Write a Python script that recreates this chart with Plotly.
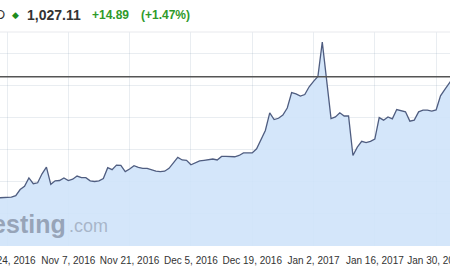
import plotly.graph_objects as go
import pandas as pd

dates = pd.date_range("2016-10-22", "2017-02-03", freq="D").strftime("%Y-%m-%d").tolist()
prices = [
    650, 650, 651, 652, 657, 676, 686, 712, 694, 697,          # Oct 22 - Oct 31
    725, 746, 692, 703, 704, 712, 704, 708, 718, 713,          # Nov 1 - Nov 10
    713, 703, 701, 703, 710, 744, 738, 752, 751, 732,          # Nov 11 - Nov 20
    740, 750, 745, 742, 742, 738, 733, 732, 733, 742,          # Nov 21 - Nov 30
    758, 776, 768, 767, 753, 760, 765, 767, 769, 771,          # Dec 1 - Dec 10
    768, 779, 779, 779, 778, 782, 790, 790, 790, 803,          # Dec 11 - Dec 20
    830, 860, 915, 894, 898, 908, 930, 978, 974, 967,          # Dec 21 - Dec 30
    972, 996, 1013, 1028, 1135, 1015, 897, 902, 915, 905,      # Dec 31 - Jan 9
    905, 782, 808, 826, 822, 826, 833, 900, 892, 902,          # Jan 10 - Jan 19
    896, 925, 922, 918, 889, 892, 918, 923, 923, 920,          # Jan 20 - Jan 29
    924, 968, 988, 1008, 1027.11,                              # Jan 30 - Feb 3
]

tick_dates = ["2016-10-24", "2016-11-07", "2016-11-21", "2016-12-05",
              "2016-12-19", "2017-01-02", "2017-01-16", "2017-01-30"]
tick_labels = ["Oct 24, 2016", "Nov 7, 2016", "Nov 21, 2016", "Dec 5, 2016",
               "Dec 19, 2016", "Jan 2, 2017", "Jan 16, 2017", "Jan 30, 2017"]

symbol = "BTC/USD"
last_price = 1027.11
last_price_text = "1,027.11"
change_text = "+14.89"
change_pct_text = "(+1.47%)"

W, H = 450, 270
TOP, BOT = 32, 246
fig = go.Figure()
fig.add_trace(go.Scatter(
    x=dates, y=prices, mode="lines",
    line=dict(color="#4f5d80", width=1.3),
    fill="tozeroy", fillcolor="rgba(207,227,250,0.9)",
    hoverinfo="skip",
))

fig.add_shape(type="line", xref="paper", x0=0, x1=1, yref="y",
              y0=last_price, y1=last_price,
              line=dict(color="#555555", width=1.5))
fig.add_shape(type="line", xref="paper", x0=0, x1=1, yref="paper",
              y0=1, y1=1, line=dict(color="#e8e9ed", width=1))

def px(xp):
    return xp / W

def py(yp):
    return (BOT - yp) / (BOT - TOP)

green = "#2f9a2a"
base = "Liberation Sans, Arial, sans-serif"
ann = [
    dict(text=symbol, x=px(7), xanchor="right", font=dict(size=13, color="#333")),
    dict(text="◆", x=px(15), xanchor="center", font=dict(size=9, color="#1e8c1e")),
    dict(text="<b>" + last_price_text + "</b>", x=px(25), xanchor="left",
         font=dict(size=14, color="#333")),
    dict(text="<b>" + change_text + "</b>", x=px(90), xanchor="left",
         font=dict(size=12, color=green)),
    dict(text="<b>" + change_pct_text + "</b>", x=px(139), xanchor="left",
         font=dict(size=12, color=green)),
]
for a in ann:
    fig.add_annotation(xref="paper", yref="paper", y=py(15), yanchor="middle",
                       showarrow=False, text=a["text"], x=a["x"], xanchor=a["xanchor"],
                       font=dict(family=base, **a["font"]))

fig.add_annotation(xref="paper", yref="paper", x=px(68), xanchor="right",
                   y=py(224), yanchor="middle", showarrow=False,
                   text="<b>Investing</b>",
                   font=dict(family=base, size=25, color="rgba(140,152,172,0.85)"))
fig.add_annotation(xref="paper", yref="paper", x=px(67), xanchor="left",
                   y=py(226), yanchor="middle", showarrow=False,
                   text=".com",
                   font=dict(family=base, size=18, color="rgba(160,173,192,0.85)"))

fig.update_layout(
    width=W, height=H,
    margin=dict(l=0, r=0, t=TOP, b=H - BOT, autoexpand=False),
    paper_bgcolor="white", plot_bgcolor="white",
    showlegend=False,
    xaxis=dict(
        type="date",
        range=["2016-10-22 09:36", "2017-02-02 04:00"],
        tickvals=tick_dates, ticktext=tick_labels,
        showgrid=True, gridcolor="rgba(120,140,170,0.16)", gridwidth=1,
        zeroline=False, showline=False, automargin=False, tickangle=0,
        ticks="", ticklabeloverflow="allow", ticklabelstandoff=7,
        tickfont=dict(family=base, size=10, color="#333"),
    ),
    yaxis=dict(
        range=[500, 1166.7], dtick=100, tick0=500,
        showgrid=True, gridcolor="rgba(120,140,170,0.16)", gridwidth=1,
        showticklabels=False, zeroline=False, showline=False, ticks="",
        automargin=False,
    ),
)

fig.write_html("out.html")
